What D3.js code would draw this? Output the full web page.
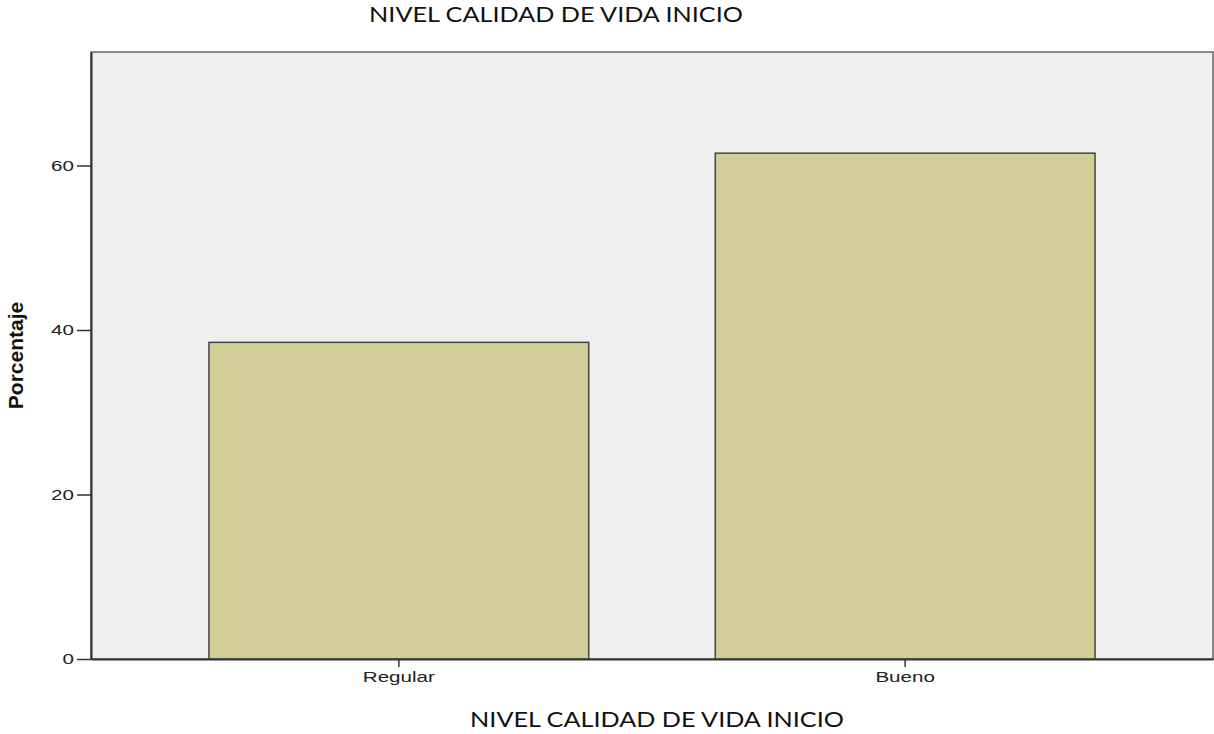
<!DOCTYPE html>
<html>
<head>
<meta charset="utf-8">
<script src="https://cdn.jsdelivr.net/npm/d3@7"></script>
<style>
  body { margin: 0; background: #fff; }
  svg { display: block; }
  .tick text { font-family: "Liberation Sans", Arial, sans-serif; }
</style>
</head>
<body>
<svg></svg>
<script>
document.addEventListener("DOMContentLoaded", function() {

  var width = 1214;
  var height = 734;

  // data
  var categories = ["Regular", "Bueno"];
  var percents = [38.5, 61.5];
  var yTicks = [0, 20, 40, 60];
  var titleText = "NIVEL CALIDAD DE VIDA INICIO";
  var yLabel = "Porcentaje";

  var left = 91, right = 1213, top = 52, bottom = 659;
  var stretch = 1.33; // the original picture is stretched sideways

  var svg = d3.select("svg")
      .attr("width", width)
      .attr("height", height);

  var xScale = d3.scaleBand()
                 .domain(categories)
                 .range([left, right])
                 .paddingInner(0.25)
                 .paddingOuter(0.233);

  var yScale = d3.scaleLinear()
                 .domain([0, 73.8])
                 .range([bottom, top]);

  svg.append("rect")
      .attr("x", left)
      .attr("y", top)
      .attr("width", right - left)
      .attr("height", bottom - top)
      .attr("fill", "#efefef")
      .attr("stroke", "#666")
      .attr("stroke-width", 1.5);

  svg.selectAll("rect.bar")
    .data(categories)
    .enter()
    .append("rect")
      .attr("class", "bar")
      .attr("x", d => xScale(d))
      .attr("y", (d, i) => yScale(percents[i]))
      .attr("width", xScale.bandwidth())
      .attr("height", (d, i) => bottom - yScale(percents[i]))
      .attr("fill", "#d3ce97")
      .attr("stroke", "#444")
      .attr("stroke-width", 1.5);

  var yAxis = d3.axisLeft(yScale)
                .tickValues(yTicks)
                .tickSize(14)
                .tickSizeOuter(0)
                .tickPadding(3);

  var gy = svg.append("g")
      .attr("transform", "translate(" + left + ",0)")
      .call(yAxis);
  gy.select(".domain").attr("stroke", "#333").attr("stroke-width", 2);
  gy.selectAll(".tick line").attr("stroke", "#333").attr("stroke-width", 1.5);
  gy.selectAll(".tick text")
      .attr("font-size", "15.5px")
      .attr("fill", "#222")
      .attr("x", null)
      .attr("transform", "translate(-17,0) scale(" + stretch + ",1)");

  var xAxis = d3.axisBottom(xScale)
                .tickSize(8)
                .tickPadding(4)
                .tickSizeOuter(0);

  var gx = svg.append("g")
      .attr("transform", "translate(0," + bottom + ")")
      .call(xAxis);
  gx.select(".domain").attr("stroke", "#333").attr("stroke-width", 2);
  gx.selectAll(".tick line").attr("stroke", "#333").attr("stroke-width", 1.5);
  gx.selectAll(".tick text")
      .attr("font-size", "15.5px")
      .attr("fill", "#222")
      .attr("transform", "scale(" + stretch + ",1)")
      .attr("x", 0);

  svg.append("text")
      .text(yLabel)
      .attr("transform", "translate(23," + ((top + bottom) / 2) + ") rotate(-90)")
      .attr("text-anchor", "middle")
      .style("font-family", "'Liberation Sans', Arial, sans-serif")
      .style("font-weight", "bold")
      .style("font-size", "21px")
      .attr("fill", "#111");

  svg.append("text")
      .text(titleText)
      .attr("transform", "translate(556,22) scale(1.2,1)")
      .attr("text-anchor", "middle")
      .style("font-family", "Lato, 'Open Sans', sans-serif")
      .style("font-size", "21px")
      .attr("fill", "#111");

  svg.append("text")
      .text(titleText)
      .attr("transform", "translate(657,727) scale(1.2,1)")
      .attr("text-anchor", "middle")
      .style("font-family", "Lato, 'Open Sans', sans-serif")
      .style("font-size", "21px")
      .attr("fill", "#111");
});
</script>
</body>
</html>
